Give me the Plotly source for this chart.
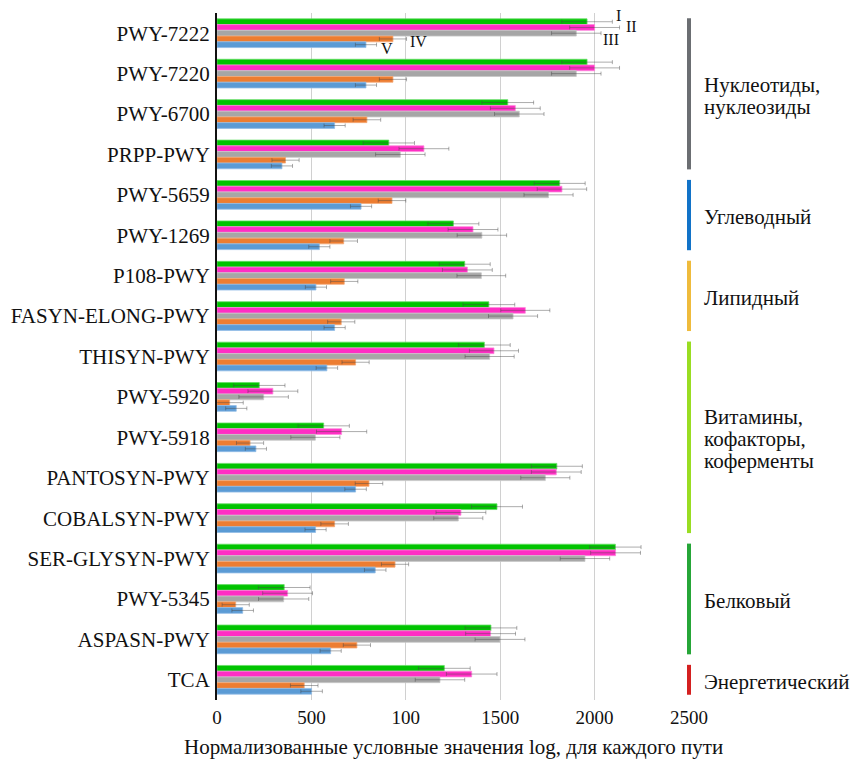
import plotly.graph_objects as go

categories = ["PWY-7222", "PWY-7220", "PWY-6700", "PRPP-PWY", "PWY-5659", "PWY-1269",
              "P108-PWY", "FASYN-ELONG-PWY", "THISYN-PWY", "PWY-5920", "PWY-5918",
              "PANTOSYN-PWY", "COBALSYN-PWY", "SER-GLYSYN-PWY", "PWY-5345", "ASPASN-PWY", "TCA"]

series_names = ["I", "II", "III", "IV", "V"]
val_I   = [1960, 1960, 1540, 910, 1815, 1252, 1312, 1440, 1416, 224, 565, 1800, 1483, 2110, 356, 1451, 1204]
val_II  = [2000, 2000, 1580, 1096, 1827, 1356, 1326, 1633, 1467, 296, 660, 1797, 1292, 2111, 374, 1449, 1349]
val_III = [1903, 1903, 1601, 971, 1756, 1403, 1400, 1568, 1444, 247, 521, 1739, 1278, 1949, 353, 1499, 1181]
val_IV  = [932, 932, 794, 363, 927, 671, 674, 658, 734, 67, 175, 805, 623, 943, 99, 741, 462]
val_V   = [789, 789, 623, 344, 763, 542, 524, 623, 582, 102, 206, 734, 522, 838, 136, 602, 501]

err_I   = [134, 134, 137, 136, 135, 135, 135, 137, 137, 136, 136, 135, 135, 136, 137, 137, 137]
err_II  = [132, 132, 132, 132, 131, 132, 132, 130, 130, 132, 133, 132, 132, 132, 132, 132, 134]
err_III = [131, 131, 131, 131, 130, 131, 129, 130, 130, 131, 130, 130, 130, 131, 133, 132, 131]
err_IV  = [72, 72, 73, 72, 73, 73, 72, 72, 72, 72, 72, 73, 73, 72, 72, 72, 73]
err_V   = [56, 56, 56, 56, 56, 56, 56, 56, 57, 56, 56, 57, 56, 57, 57, 56, 57]

tick_vals = [0, 500, 1000, 1500, 2000, 2500]
tick_text = ["0", "500", "100", "1500", "2000", "2500"]

x_title = "Нормализованные условные значения log, для каждого пути"

groups = [
    (["Нуклеотиды,", "нуклеозиды"], 0, 3, "#6b6e72"),
    (["Углеводный"], 4, 5, "#1273c8"),
    (["Липидный"], 6, 7, "#efbb3c"),
    (["Витамины,", "кофакторы,", "коферменты"], 8, 12, "#99dd22"),
    (["Белковый"], 13, 15, "#26a638"),
    (["Энергетический"], 16, 16, "#d42020"),
]

bar_colors = ["#00c400", "#ff2ec4", "#a6a6a6", "#ed7d31", "#5b9bd5"]
edge_colors = ["#66dd66", "#ff88dd", "#c8c8c8", "#f4aa77", "#93bde6"]
values = [val_I, val_II, val_III, val_IV, val_V]
errors = [err_I, err_II, err_III, err_IV, err_V]

SERIF = "Liberation Serif"
LINE_STEP = 22

fig = go.Figure()
for name, v, e, c, ec in zip(series_names, values, errors, bar_colors, edge_colors):
    fig.add_trace(go.Bar(
        name=name, y=categories, x=v, orientation="h",
        marker=dict(color=c, line=dict(color=ec, width=0.8)),
        error_x=dict(type="data", array=e, visible=True,
                     color="rgba(70,70,70,0.45)", thickness=1, width=2),
        showlegend=False, hoverinfo="skip",
    ))

shapes = []
annotations = []
for lines, i0, i1, col in groups:
    shapes.append(dict(type="line", xref="paper", yref="y",
                       x0=1.0, x1=1.0, y0=i0 - 0.5 + 0.13, y1=i1 + 0.5 - 0.13,
                       line=dict(color=col, width=4)))
    n = len(lines)
    for k, ln in enumerate(lines):
        shift = -(k - (n - 1) / 2) * LINE_STEP - 2
        annotations.append(dict(xref="paper", yref="y", x=1.0275, y=(i0 + i1) / 2,
                                text=ln, showarrow=False, xanchor="left", yanchor="middle",
                                yshift=shift,
                                font=dict(family=SERIF, size=21, color="#111111")))

# series labels near the first group
lab_pos = [("I", 2125, 0.997), ("II", 2194, 0.980), ("III", 2089, 0.961),
           ("IV", 1066, 0.958), ("V", 902, 0.948)]
for t, xv, yp in lab_pos:
    annotations.append(dict(xref="x", yref="paper", x=xv, y=yp, text=t, showarrow=False,
                            xanchor="center", yanchor="middle",
                            font=dict(family=SERIF, size=16, color="#111111")))

annotations.append(dict(xref="paper", yref="paper", x=0.5, y=-47 / 687, text=x_title,
                        showarrow=False, xanchor="center", yanchor="middle",
                        font=dict(family=SERIF, size=21, color="#111111")))

fig.update_layout(
    width=851, height=760,
    margin=dict(l=217, r=162, t=13, b=60),
    paper_bgcolor="white", plot_bgcolor="white",
    barmode="group", bargap=0.29, bargroupgap=0,
    font=dict(family=SERIF, size=18, color="#111111"),
    shapes=shapes, annotations=annotations,
    xaxis=dict(range=[0, 2500], tickvals=tick_vals, ticktext=tick_text,
               showgrid=True, gridcolor="#d0d0d0", gridwidth=1, automargin=False,
               zeroline=False, showline=False, ticks="", ticklabelstandoff=4,
               tickfont=dict(family=SERIF, size=19, color="#111111")),
    yaxis=dict(autorange="reversed", showline=True, linecolor="#111111", linewidth=2,
               ticks="", ticklabelstandoff=1, showgrid=False, automargin=False,
               tickfont=dict(family=SERIF, size=21, color="#111111")),
)

fig.write_html("out.html", config={"displayModeBar": False},
               post_script="document.body.style.margin='0px';")
